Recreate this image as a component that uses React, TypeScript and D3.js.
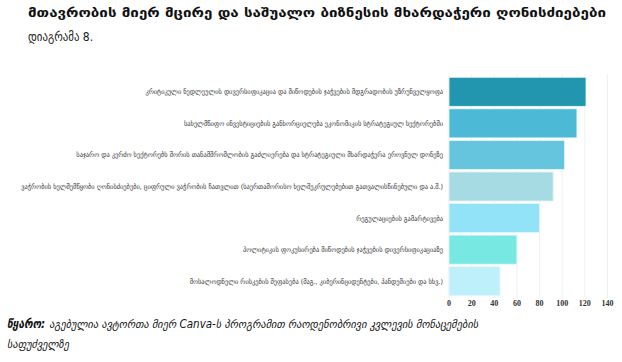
import React from "react";
import * as d3 from "d3";

const categories = [
  "კრიტიკული ნედლეულის დივერსიფიკაცია და მიწოდების ჯაჭვების მდგრადობის უზრუნველყოფა",
  "სახელმწიფო ინვესტიციების განხორციელება ეკონომიკის სტრატეგიულ სექტორებში",
  "საჯარო და კერძო სექტორებს შორის თანამშრომლობის გაძლიერება და სტრატეგიული მხარდაჭერა ეროვნულ დონეზე",
  "ვაჭრობის ხელშემწყობი ღონისძიებები, ციფრული ვაჭრობის ჩათვლით (საერთაშორისო ხელშეკრულებებით გათვალისწინებული და ა.შ.)",
  "რეგულაციების გამარტივება",
  "პოლიტიკის ფოკუსირება მიწოდების ჯაჭვების დივერსიფიკაციაზე",
  "მოსალოდნელი რისკების შეფასება (მაგ., კიბერინციდენტები, პანდემიები და სხვ.)",
];
const values = [121, 113, 102, 92, 80, 60, 45];
const barColors = ["#2196ae", "#4cb9d6", "#66c5de", "#a6dbe4", "#93e3f8", "#78e8e2", "#bdf0fb"];
const tickValues = [0, 20, 40, 60, 80, 100, 120, 140];

const title = "მთავრობის მიერ მცირე და საშუალო ბიზნესის მხარდაჭერი ღონისძიებები";
const subtitle = "დიაგრამა 8.";
const sourceLabel = "წყარო:";
const sourceLine1 = "აგებულია ავტორთა მიერ Canva-ს პროგრამით რაოდენობრივი კვლევის მონაცემების";
const sourceLine2 = "საფუძველზე";

export default function App() {
  const W = 622, H = 362;
  const x = d3.scaleLinear().domain([0, 140]).range([449, 607.5]);
  const y = d3.scaleBand<string>().domain(categories).range([76, 297]).paddingInner(0.08).paddingOuter(0.04);
  const geo = "'DejaVu Sans Condensed', 'DejaVu Sans', sans-serif";
  return (
    <svg width={W} height={H} style={{ position: "absolute", left: 0, top: 0, background: "#fff" }}>
      <text x={28} y={17} fontFamily={geo} fontWeight="bold" fontSize={12.5} fill="#111"
        textLength={578} lengthAdjust="spacingAndGlyphs">{title}</text>
      <text x={28} y={41} fontFamily={geo} fontSize={12} fill="#222">{subtitle}</text>

      {tickValues.map((t) => (
        <line key={"g" + t} x1={x(t)} x2={x(t)} y1={74} y2={298} stroke="#f0f0f0" strokeWidth={1} />
      ))}

      {categories.map((c, i) => (
        <g key={c}>
          <rect x={x(0)} y={y(c)!} width={x(values[i]) - x(0)} height={y.bandwidth()}
            fill={barColors[i]} stroke="#e6f6fa" strokeWidth={0.8} />
          <text x={443} y={y(c)! + y.bandwidth() / 2} dy="0.35em" textAnchor="end"
            fontFamily={geo} fontSize={7.1} fill="#333">{c}</text>
        </g>
      ))}

      {tickValues.map((t) => (
        <text key={"t" + t} x={x(t)} y={306} textAnchor="middle" fontFamily="'Liberation Serif', serif"
          fontWeight="bold" fontSize={8} fill="#333">{t}</text>
      ))}

      <text x={7} y={328} fontFamily={geo} fontSize={11.5} fill="#111">
        <tspan fontWeight="bold" fontStyle="italic">{sourceLabel}</tspan>
        <tspan dx={4} fontStyle="italic">{sourceLine1}</tspan>
      </text>
      <text x={7} y={348} fontFamily={geo} fontSize={11.5} fontStyle="italic" fill="#111">{sourceLine2}</text>
    </svg>
  );
}
